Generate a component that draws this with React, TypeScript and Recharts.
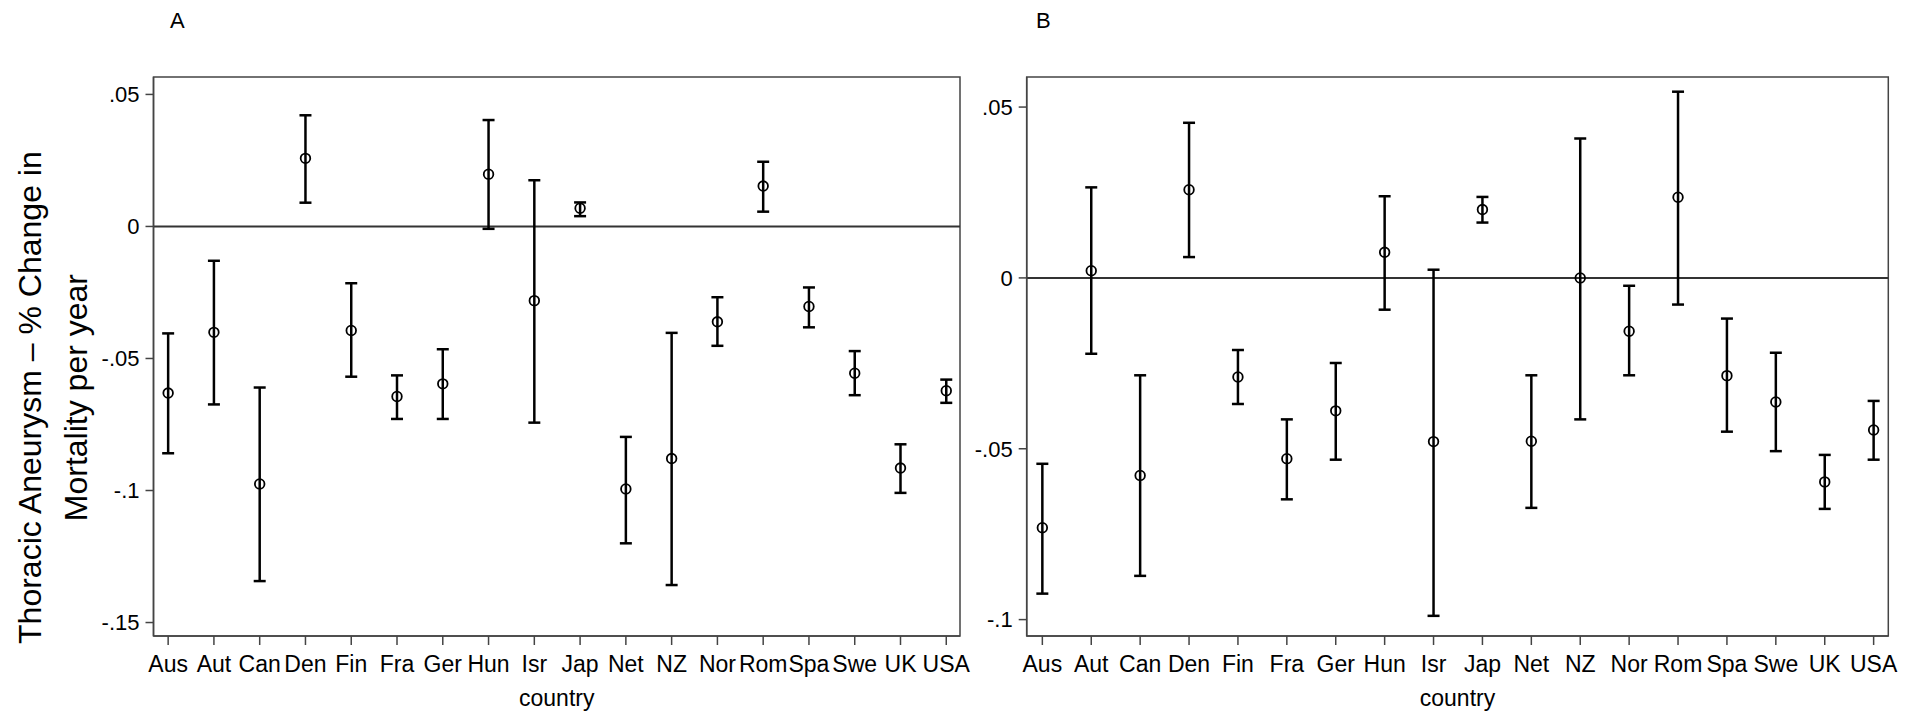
import React from 'react';
import {
  ScatterChart,
  Scatter,
  XAxis,
  YAxis,
  ErrorBar,
  ReferenceLine,
  ReferenceArea,
} from 'recharts';

const countries = ['Aus', 'Aut', 'Can', 'Den', 'Fin', 'Fra', 'Ger', 'Hun', 'Isr', 'Jap', 'Net', 'NZ', 'Nor', 'Rom', 'Spa', 'Swe', 'UK', 'USA'];

// panel A
const estA = [-0.0631, -0.0401, -0.0975, 0.0258, -0.0394, -0.0644, -0.0596, 0.0198, -0.0281, 0.0069, -0.0994, -0.0879, -0.0361, 0.0153, -0.0303, -0.0556, -0.0915, -0.0622];
const lowA = [-0.0859, -0.0674, -0.1343, 0.009, -0.0569, -0.0729, -0.0729, -0.0009, -0.0743, 0.0039, -0.12, -0.1358, -0.0452, 0.0056, -0.0382, -0.0639, -0.1009, -0.0668];
const highA = [-0.0405, -0.013, -0.061, 0.0421, -0.0215, -0.0564, -0.0465, 0.0403, 0.0175, 0.0091, -0.0797, -0.0403, -0.0268, 0.0245, -0.0231, -0.0472, -0.0825, -0.058];
const ticksA = [0.05, 0, -0.05, -0.1, -0.15];

// panel B
const estB = [-0.0731, 0.0021, -0.0578, 0.0258, -0.029, -0.0529, -0.0389, 0.0075, -0.0479, 0.02, -0.0478, 0.0, -0.0156, 0.0236, -0.0286, -0.0363, -0.0597, -0.0445];
const lowB = [-0.0924, -0.0222, -0.0872, 0.0061, -0.0369, -0.0648, -0.0532, -0.0093, -0.0989, 0.0162, -0.0673, -0.0414, -0.0285, -0.0078, -0.045, -0.0507, -0.0676, -0.0532];
const highB = [-0.0544, 0.0265, -0.0285, 0.0454, -0.0211, -0.0414, -0.0249, 0.0239, 0.0024, 0.0237, -0.0285, 0.0408, -0.0023, 0.0545, -0.0119, -0.0219, -0.0518, -0.036];
const ticksB = [0.05, 0, -0.05, -0.1];

const FONT = '"Liberation Sans", Arial, sans-serif';
const xDomain: [number, number] = [0.68, 18.3];
const xTicks = countries.map((_, i) => i + 1);

const fmtY = (v: number) => (v === 0 ? '0' : String(v).replace(/^(-?)0\./, '$1.'));

function buildRows(est: number[], low: number[], high: number[]) {
  return countries.map((c, i) => ({
    x: i + 1,
    y: est[i],
    err: [est[i] - low[i], high[i] - est[i]],
  }));
}

const Hollow = (props: any) => (
  <circle cx={props.cx} cy={props.cy} r={4.8} fill="none" stroke="#000" strokeWidth={1.8} />
);

interface PanelProps {
  rows: { x: number; y: number; err: number[] }[];
  yDomain: [number, number];
  yTicks: number[];
  width: number;
  marginLeft: number;
  marginRight: number;
}

function Panel({ rows, yDomain, yTicks, width, marginLeft, marginRight }: PanelProps) {
  return (
    <ScatterChart
      width={width}
      height={715}
      margin={{ top: 77, right: marginRight, bottom: 4, left: marginLeft }}
    >
      <XAxis
        type="number"
        dataKey="x"
        domain={xDomain}
        ticks={xTicks}
        interval={0}
        tickFormatter={(v: number) => countries[v - 1]}
        height={75}
        tickSize={9}
        tickMargin={11}
        axisLine={{ stroke: '#444', strokeWidth: 1.5 }}
        tickLine={{ stroke: '#444', strokeWidth: 1.5 }}
        tick={{ fill: '#000', fontSize: 23, fontFamily: FONT }}
        label={{ value: 'country', position: 'insideBottom', offset: 5, fill: '#000', fontSize: 23, fontFamily: FONT }}
      />
      <YAxis
        type="number"
        dataKey="y"
        domain={yDomain}
        ticks={yTicks}
        interval={0}
        allowDataOverflow
        width={80}
        tickSize={8}
        tickMargin={6}
        tickFormatter={fmtY}
        axisLine={{ stroke: '#444', strokeWidth: 1.5 }}
        tickLine={{ stroke: '#444', strokeWidth: 1.5 }}
        tick={{ fill: '#000', fontSize: 22, fontFamily: FONT }}
      />
      <ReferenceArea
        x1={xDomain[0]}
        x2={xDomain[1]}
        y1={yDomain[0]}
        y2={yDomain[1]}
        fill="none"
        stroke="#444"
        strokeWidth={1.5}
      />
      <ReferenceLine y={0} stroke="#333" strokeWidth={2} />
      <Scatter data={rows} shape={Hollow} isAnimationActive={false}>
        <ErrorBar dataKey="err" direction="y" width={6} stroke="#000" strokeWidth={2.5} isAnimationActive={false} />
      </Scatter>
    </ScatterChart>
  );
}

export default function App() {
  const rowsA = buildRows(estA, lowA, highA);
  const rowsB = buildRows(estB, lowB, highB);
  return (
    <div style={{ position: 'absolute', left: 0, top: 0, width: 1926, height: 715, background: '#fff', fontFamily: FONT, overflow: 'hidden' }}>
      <div style={{ position: 'absolute', left: 0, top: 0 }}>
        <Panel rows={rowsA} yDomain={[-0.1551, 0.0566]} yTicks={ticksA} width={1000} marginLeft={73.5} marginRight={40} />
      </div>
      <div style={{ position: 'absolute', left: 940, top: 0 }}>
        <Panel rows={rowsB} yDomain={[-0.1048, 0.0588]} yTicks={ticksB} width={986} marginLeft={6.7} marginRight={37.7} />
      </div>
      <div style={{ position: 'absolute', left: 170, top: 8, fontSize: 22, color: '#000' }}>A</div>
      <div style={{ position: 'absolute', left: 1036, top: 8, fontSize: 22, color: '#000' }}>B</div>
      <div
        style={{
          position: 'absolute',
          left: 54 - 270,
          top: 398 - 45.6,
          width: 540,
          height: 91.2,
          lineHeight: '45.6px',
          fontSize: 32,
          textAlign: 'center',
          color: '#000',
          transform: 'rotate(-90deg)',
          whiteSpace: 'nowrap',
        }}
      >
        Thoracic Aneurysm – % Change in
        <br />
        Mortality per year
      </div>
    </div>
  );
}
